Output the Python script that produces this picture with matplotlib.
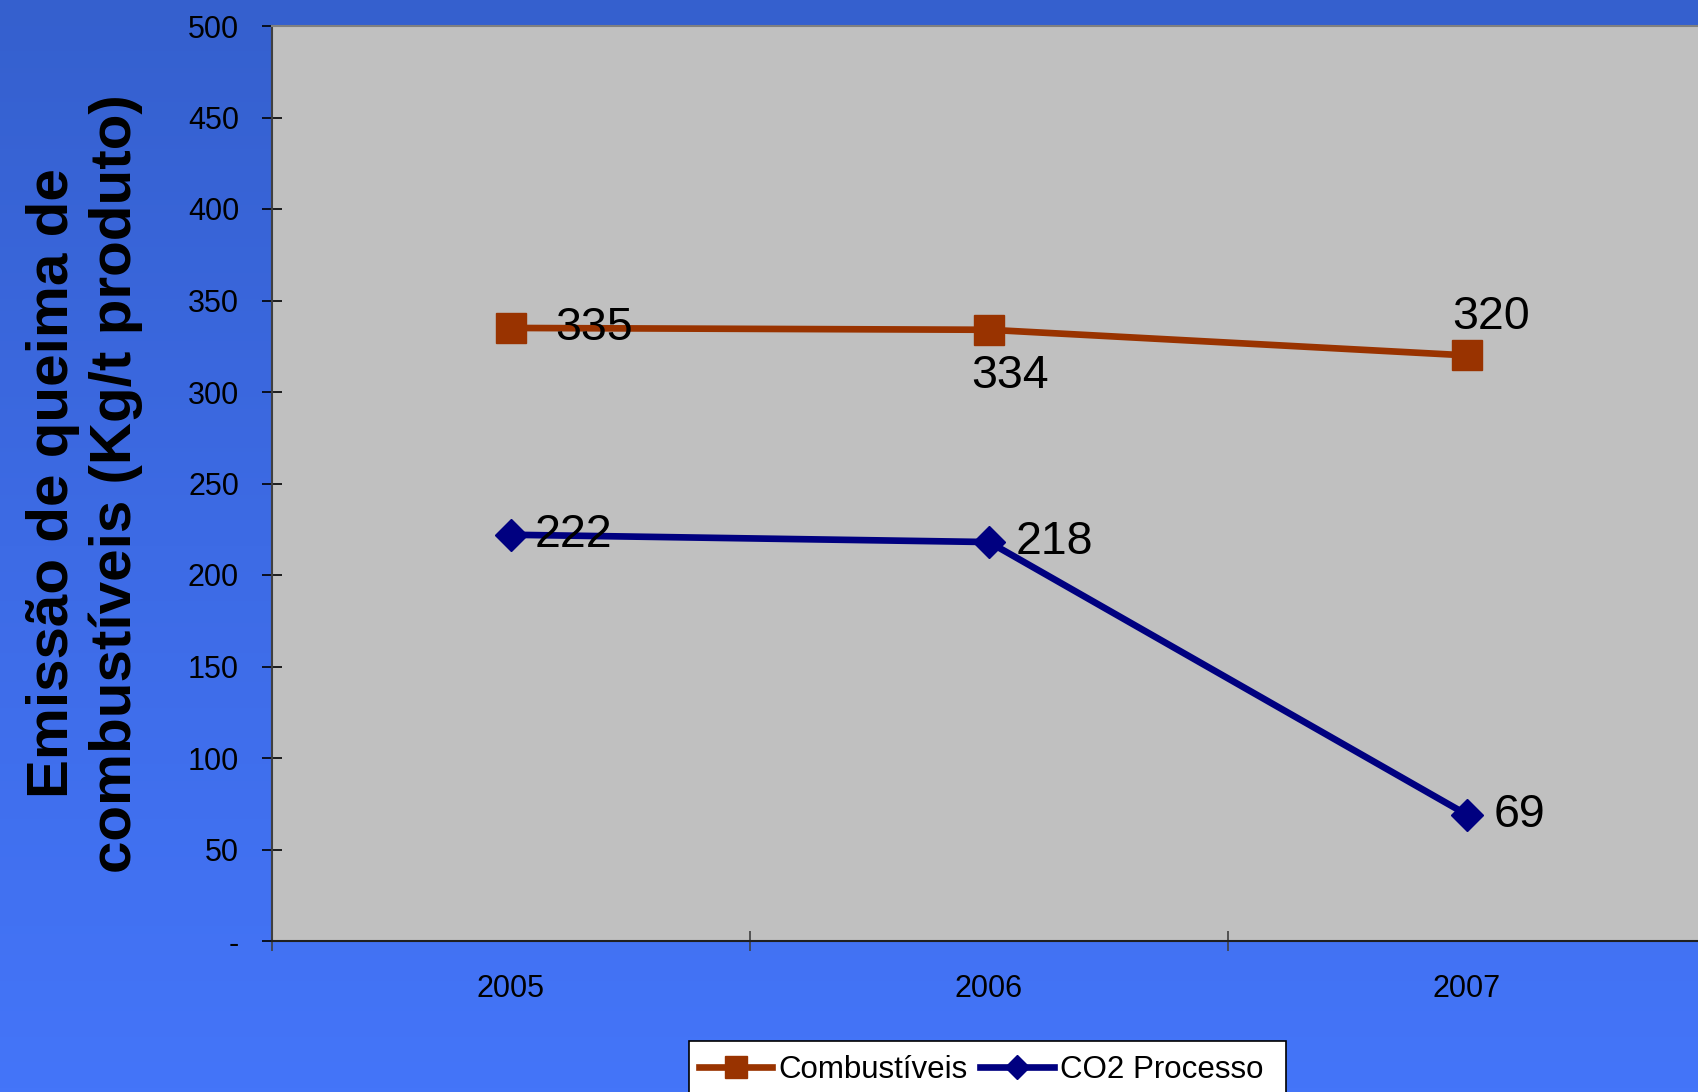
import numpy as np
import matplotlib
matplotlib.use("Agg")
import matplotlib.pyplot as plt
from matplotlib.colors import LinearSegmentedColormap
from matplotlib.patches import Rectangle

years = ["2005", "2006", "2007"]
combustiveis = [335, 334, 320]
co2_processo = [222, 218, 69]
series_names = ["Combustíveis", "CO2 Processo"]
ytick_values = [0, 50, 100, 150, 200, 250, 300, 350, 400, 450, 500]
ytick_labels = ["-", "50", "100", "150", "200", "250", "300", "350", "400", "450", "500"]
ylabel_text = "Emissão de queima de\ncombustíveis (Kg/t produto)"

# label offsets in points (dx, dy, ha, va)
comb_label_pos = [(32, 0, "left", "center"), (15, -33, "center", "center"), (17, 28, "center", "center")]
co2_label_pos = [(17, 0, "left", "center"), (19, 0, "left", "center"), (19, 0, "left", "center")]

plt.rcParams["font.family"] = ["Liberation Sans", "DejaVu Sans"]

W, H = 1699, 1092
fig = plt.figure(figsize=(W / 100, H / 100), dpi=100)

# gradient background
bg = fig.add_axes([0, 0, 1, 1], zorder=-10)
cmap = LinearSegmentedColormap.from_list("bg", ["#3560CE", "#3D6BE5", "#4475F9"])
grad = np.linspace(0, 1, 256).reshape(-1, 1)
bg.imshow(grad, aspect="auto", cmap=cmap, extent=[0, 1, 0, 1], origin="upper")
bg.set_axis_off()

left, right_px, top, bottom = 272, 1706, 26, 941
ax = fig.add_axes([left / W, 1 - bottom / H, (right_px - left) / W, (bottom - top) / H])
ax.set_facecolor("#C0C0C0")

x = np.arange(len(years))
ax.plot(x, combustiveis, color="#993300", lw=4.8, marker="s", markersize=21,
        markerfacecolor="#993300", markeredgecolor="#993300", label=series_names[0], zorder=3)
ax.plot(x, co2_processo, color="#000080", lw=4.8, marker="D", markersize=16,
        markerfacecolor="#000080", markeredgecolor="#000080", label=series_names[1], zorder=3)

for xi, v, (dx, dy, ha, va) in zip(x, combustiveis, comb_label_pos):
    ax.annotate(str(v), (xi, v), xytext=(dx, dy), textcoords="offset points",
                ha=ha, va=va, fontsize=33.5, color="black", zorder=5)
for xi, v, (dx, dy, ha, va) in zip(x, co2_processo, co2_label_pos):
    ax.annotate(str(v), (xi, v), xytext=(dx, dy), textcoords="offset points",
                ha=ha, va=va, fontsize=33.5, color="black", zorder=5)

ax.set_xlim(-0.5, 2.5)
ax.set_ylim(0, 500)
ax.set_yticks(ytick_values)
ax.set_yticklabels(ytick_labels)
ax.set_xticks([-0.5, 0.5, 1.5, 2.5])
ax.set_xticklabels([])
ax.set_xticks(x, minor=True)
ax.set_xticklabels(years, minor=True)
ax.tick_params(axis="y", direction="inout", length=14.4, width=1.2, pad=16.5, labelsize=22, colors="black")
ax.tick_params(axis="x", which="major", direction="inout", length=14.4, width=1.2, colors="#404040")
ax.tick_params(axis="x", which="minor", length=0, pad=24, labelsize=22)

ax.spines["left"].set_color("#404040")
ax.spines["left"].set_linewidth(1.5)
ax.spines["bottom"].set_color("#202020")
ax.spines["bottom"].set_linewidth(1.5)
ax.spines["top"].set_color("#808080")
ax.spines["top"].set_linewidth(1.5)
ax.spines["right"].set_visible(False)

ax.set_ylabel(ylabel_text, fontsize=42, fontweight="bold", va="center", ha="center",
              linespacing=1.2)
ax.yaxis.set_label_coords((85 - left) / (right_px - left), 0.5)

# legend frame (white box running off the bottom edge)
box = Rectangle((689 / W, -0.02), (1286 - 689) / W, (1 - 1041 / H) + 0.02,
                transform=fig.transFigure, facecolor="white", edgecolor="black",
                linewidth=1.2, zorder=1)
fig.patches.append(box)

leg = fig.legend(loc="center left", bbox_to_anchor=(699 / W, 1 - 1070 / H), ncol=2,
                 fontsize=22.5, frameon=False, handlelength=2.35, handletextpad=0.2,
                 columnspacing=0.4, borderpad=0.0, borderaxespad=0, markerscale=0.75)
leg.set_zorder(2)

fig.savefig("out.png", dpi=100)
